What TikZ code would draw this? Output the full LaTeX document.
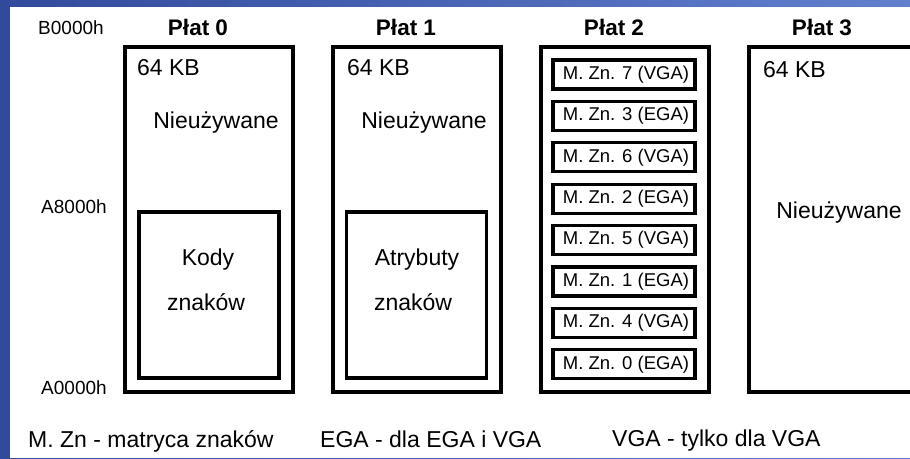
\documentclass[tikz,border=0pt]{standalone}
\usepackage{fontspec}
\setmainfont{Liberation Sans}
\definecolor{frameblue}{RGB}{50,74,155}
\definecolor{frameblue2}{RGB}{96,128,206}
\tikzset{
  planebox/.style={draw, line width=3.2pt, minimum width=168pt, minimum height=345pt, inner sep=0pt},
  innerbox/.style={draw, line width=3.2pt, minimum width=140pt, minimum height=166pt, inner sep=0pt},
  charbox/.style={draw, line width=3.2pt, minimum width=142pt, minimum height=29pt, inner sep=0pt, font=\fontsize{18.5}{20}\selectfont},
  lbl/.style={inner sep=0pt, font=\fontsize{23}{26}\selectfont},
  addr/.style={inner sep=0pt, font=\fontsize{19}{22}\selectfont},
  platlabel/.style={inner sep=0pt, font=\bfseries\fontsize{22.5}{26}\selectfont},
}
\begin{document}
\begin{tikzpicture}[x=1pt,y=-1pt]
\useasboundingbox (0,0) rectangle (910,458);
\shade[left color=frameblue, right color=frameblue2] (0,0) rectangle (910,458);
\fill[white] (10,7) rectangle (910,458);
\clip (0,0) rectangle (910,458);

% adresy
\node[addr] (b0) at (71,28) {B0000h};
\node[addr] (a8) at (74,207) {A8000h};
\node[addr] (a0) at (74,388) {A0000h};

% platy
\foreach \i/\x in {0/209,1/417,2/625,3/833} {
  \node[planebox] (p\i) at (\x,219.5) {};
  \node[platlabel] (t\i) at (\x-11,27) {Płat \i};
}

\node[lbl, anchor=west] (kb0) at (137,68) {64 KB};
\node[lbl, anchor=west] (kb1) at (347,68) {64 KB};
\node[lbl, anchor=west] (kb3) at (763,70) {64 KB};

\node[lbl] (n0) at (216,123) {Nieużywane};
\node[lbl] (n1) at (424,123) {Nieużywane};
\node[lbl] (n3) at (839,213) {Nieużywane};

% kody i atrybuty
\node[innerbox] (kody) at (209,295) {};
\node[lbl] (kody1) at (208,260) {Kody};
\node[lbl] (kody2) at (206,302) {znaków};
\node[innerbox] (atr) at (416.5,295) {};
\node[lbl] (atr1) at (417,260) {Atrybuty};
\node[lbl] (atr2) at (413,302) {znaków};

% matryce znakow
\foreach \n/\k [count=\j from 0] in {7/VGA,3/EGA,6/VGA,2/EGA,5/VGA,1/EGA,4/VGA,0/EGA}
  \node[charbox] (mz\n) at (624,{74.5+41.4*\j}) {\hspace{4pt}M. Zn. \n\ (\k)};

% legenda
\node[lbl, anchor=base west] (leg1) at (28,447) {M. Zn - matryca znaków};
\node[lbl, anchor=base west] (leg2) at (320,447) {EGA - dla EGA i VGA};
\node[lbl, anchor=base west] (leg3) at (612,446) {VGA - tylko dla VGA};
\end{tikzpicture}
\end{document}
